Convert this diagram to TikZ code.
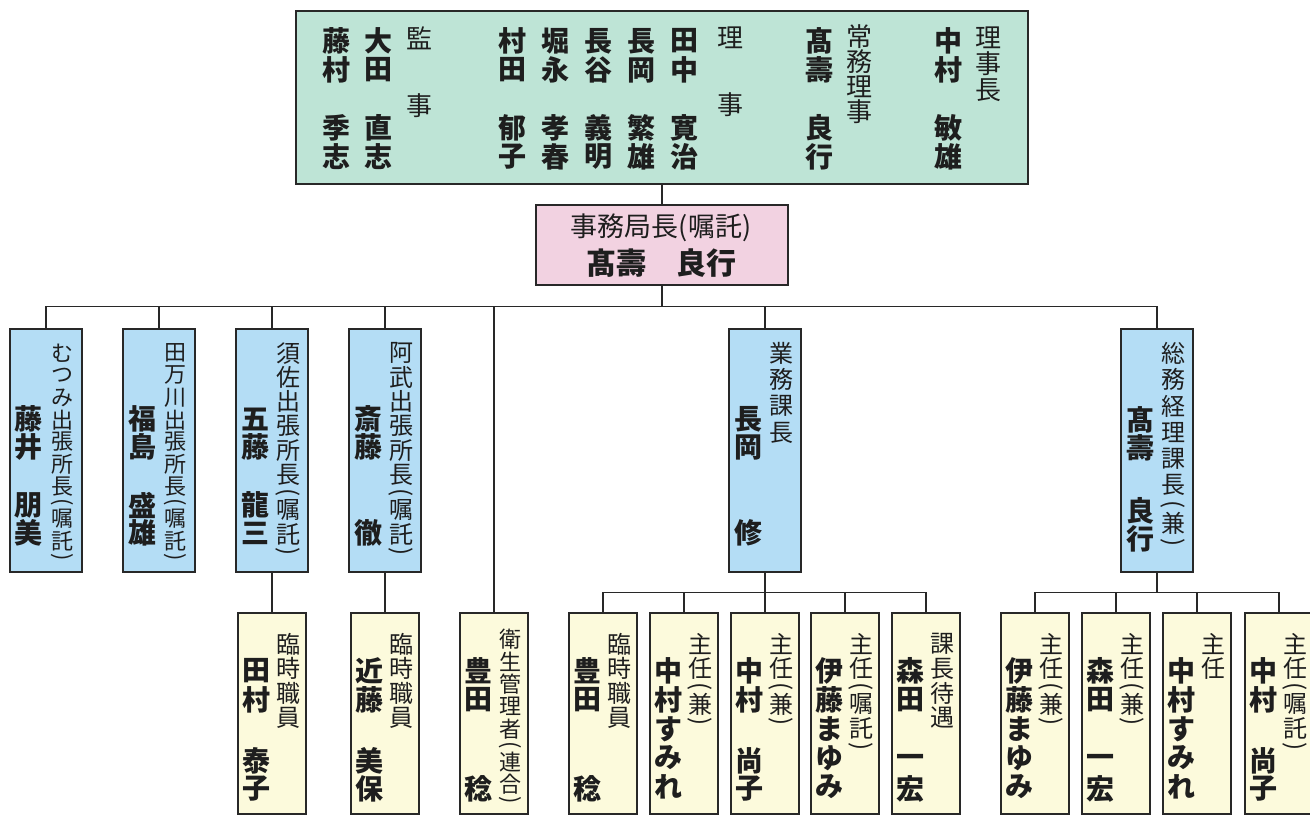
\documentclass[tikz,border=0pt]{standalone}
\usepackage{fontspec}
\newfontfamily\jp{Noto Sans CJK JP}
\definecolor{topfill}{RGB}{190,228,214}
\definecolor{pinkfill}{RGB}{242,210,225}
\definecolor{bluefill}{RGB}{180,221,245}
\definecolor{creamfill}{RGB}{252,250,220}
\definecolor{linec}{RGB}{40,40,40}
\definecolor{txtc}{RGB}{30,30,30}
\tikzset{
  box/.style={draw=linec, line width=1.6pt, inner sep=0pt},
  topbox/.style={box, fill=topfill, anchor=north west},
  pinkbox/.style={box, fill=pinkfill, anchor=north west},
  bluebox/.style={box, fill=bluefill, anchor=north, minimum width=72pt, minimum height=243pt},
  creambox/.style={box, fill=creamfill, anchor=north, minimum width=68pt, minimum height=201pt},
  conn/.style={draw=linec, line width=1.4pt},
  ttl/.style={inner sep=0pt, text=txtc},
  nm/.style={inner sep=0pt, text=txtc, font=\jp\bfseries\fontsize{28}{28}\selectfont},
}
\def\LP{{(}}
\def\RP{{)}}
% vertical title: prefix, x, top, pitch, size, list char/weight
\newcommand\vtitle[6]{%
  \gdef\vacc{0}%
  \foreach \ch/\wt [count=\i] in {#6}{%
    \pgfmathsetmacro\yy{#3+(\vacc+0.5*\wt)*#4}%
    \ifdim\wt pt<0.99pt\def\vrot{-90}\else\def\vrot{0}\fi
    \node[ttl, font=\jp\fontsize{#5}{#5}\selectfont, rotate=\vrot] (#1-\i) at (#2,\yy) {\ch};
    \pgfmathsetmacro\nacc{\vacc+\wt}%
    \global\let\vacc\nacc
  }}
% vertical name: prefix, x, list char/y
\newcommand\vname[3]{%
  \foreach \ch/\yy [count=\i] in {#3}{\node[nm] (#1-\i) at (#2,\yy) {\ch};}}
\begin{document}
\begin{tikzpicture}[x=1pt,y=-1pt]
\useasboundingbox (0,0) rectangle (1310,815);
\fill[white] (0,0) rectangle (1310,815);

% ---------- boxes ----------
\node[topbox, minimum width=732pt, minimum height=173pt] (top) at (295,10) {};
\node[pinkbox, minimum width=252pt, minimum height=80pt] (pink) at (535,204) {};

\node[bluebox] (b1) at (46,328) {};
\node[bluebox] (b2) at (159,328) {};
\node[bluebox] (b3) at (272,328) {};
\node[bluebox] (b4) at (385,328) {};
\node[bluebox] (b5) at (765,328) {};
\node[bluebox] (b6) at (1157,328) {};

\node[creambox] (c1) at (272,612) {};
\node[creambox] (c2) at (385,612) {};
\node[creambox] (e1) at (494,612) {};
\node[creambox] (d1) at (603,612) {};
\node[creambox] (d2) at (684,612) {};
\node[creambox] (d3) at (765,612) {};
\node[creambox] (d4) at (845,612) {};
\node[creambox] (d5) at (926,612) {};
\node[creambox] (f1) at (1035,612) {};
\node[creambox] (f2) at (1116,612) {};
\node[creambox] (f3) at (1197,612) {};
\node[creambox] (f4) at (1279,612) {};

% ---------- connectors ----------
\draw[conn] (top.south) -- (pink.north);
\foreach \b in {b1,b2,b3,b4,b5,b6,e1}{\draw[conn] (pink.south) -- ++(0,21) -| (\b.north);}
\draw[conn] (b3.south) -- (c1.north);
\draw[conn] (b4.south) -- (c2.north);
\foreach \b in {d1,d2,d3,d4,d5}{\draw[conn] (b5.south) -- ++(0,20) -| (\b.north);}
\foreach \b in {f1,f2,f3,f4}{\draw[conn] (b6.south) -- ++(0,20) -| (\b.north);}

% ---------- top box text ----------
\vtitle{t1}{988}{25}{26}{26}{理/1,事/1,長/1}
\vname{n1}{948}{中/41,村/70,敏/128,雄/157}
\vtitle{t2}{859}{24.5}{25}{26}{常/1,務/1,理/1,事/1}
\vname{n2}{819}{髙/41,壽/70,良/128,行/157}
\node[ttl, font=\jp\fontsize{26}{26}\selectfont] (t3a) at (730,38) {理};
\node[ttl, font=\jp\fontsize{26}{26}\selectfont] (t3b) at (730,105) {事};
\vname{n3}{684}{田/41,中/70,寛/128,治/157}
\vname{n4}{641}{長/41,岡/70,繁/128,雄/157}
\vname{n5}{598}{長/41,谷/70,義/128,明/157}
\vname{n6}{555}{堀/41,永/70,孝/128,春/157}
\vname{n7}{512}{村/41,田/70,郁/128,子/157}
\node[ttl, font=\jp\fontsize{26}{26}\selectfont] (t4a) at (419,38) {監};
\node[ttl, font=\jp\fontsize{26}{26}\selectfont] (t4b) at (419,106) {事};
\vname{n8}{378}{大/41,田/70,直/128,志/157}
\vname{n9}{336}{藤/41,村/70,季/128,志/157}

% ---------- pink box text ----------
\node[ttl, font=\jp\fontsize{27}{27}\selectfont] (p1) at (661,228) {事務局長(嘱託)};
\node[nm, font=\jp\bfseries\fontsize{30}{30}\selectfont] (p2) at (661,263) {髙壽　良行};

% ---------- blue boxes text ----------
\vtitle{b1t}{62}{342}{22.2}{22}{む/1,つ/1,み/1,出/1,張/1,所/1,長/1,\LP/0.45,嘱/1,託/1,\RP/0.45}
\vname{b1n}{29}{藤/419,井/447,朋/505,美/533}
\vtitle{b2t}{175}{342}{22.2}{22}{田/1,万/1,川/1,出/1,張/1,所/1,長/1,\LP/0.45,嘱/1,託/1,\RP/0.45}
\vname{b2n}{142}{福/419,島/447,盛/505,雄/533}
\vtitle{b3t}{288}{341}{24.3}{24}{須/1,佐/1,出/1,張/1,所/1,長/1,\LP/0.45,嘱/1,託/1,\RP/0.45}
\vname{b3n}{255}{五/419,藤/447,龍/505,三/533}
\vtitle{b4t}{401}{341}{24.3}{24}{阿/1,武/1,出/1,張/1,所/1,長/1,\LP/0.45,嘱/1,託/1,\RP/0.45}
\vname{b4n}{368}{斎/419,藤/447,徹/533}
\vtitle{b5t}{781}{340}{26.5}{24}{業/1,務/1,課/1,長/1}
\vname{b5n}{748}{長/419,岡/447,修/533}
\vtitle{b6t}{1173}{340}{26.4}{24}{総/1,務/1,経/1,理/1,課/1,長/1,\LP/0.45,兼/1,\RP/0.45}
\vname{b6n}{1140}{髙/420,壽/448,良/511,行/539}

% ---------- bottom boxes text ----------
\vtitle{c1t}{288}{632}{24.5}{24}{臨/1,時/1,職/1,員/1}
\vname{c1n}{256}{田/671,村/700,泰/761,子/789}
\vtitle{c2t}{401}{632}{24.5}{24}{臨/1,時/1,職/1,員/1}
\vname{c2n}{369}{近/671,藤/700,美/761,保/789}
\vtitle{e1t}{510}{628}{22.5}{22}{衛/1,生/1,管/1,理/1,者/1,\LP/0.45,連/1,合/1,\RP/0.45}
\vname{e1n}{478}{豊/671,田/700,稔/789}
\vtitle{d1t}{619}{632}{24.5}{24}{臨/1,時/1,職/1,員/1}
\vname{d1n}{587}{豊/671,田/700,稔/789}
\vtitle{d2t}{700}{632}{24.5}{24}{主/1,任/1,\LP/0.45,兼/1,\RP/0.45}
\vname{d2n}{668}{中/671,村/700,す/729,み/758,れ/787}
\vtitle{d3t}{781}{632}{24.5}{24}{主/1,任/1,\LP/0.45,兼/1,\RP/0.45}
\vname{d3n}{749}{中/671,村/700,尚/761,子/789}
\vtitle{d4t}{861}{632}{24.5}{24}{主/1,任/1,\LP/0.45,嘱/1,託/1,\RP/0.45}
\vname{d4n}{829}{伊/671,藤/700,ま/729,ゆ/758,み/787}
\vtitle{d5t}{942}{632}{24.5}{24}{課/1,長/1,待/1,遇/1}
\vname{d5n}{910}{森/671,田/700,一/761,宏/789}
\vtitle{f1t}{1051}{632}{24.5}{24}{主/1,任/1,\LP/0.45,兼/1,\RP/0.45}
\vname{f1n}{1019}{伊/671,藤/700,ま/729,ゆ/758,み/787}
\vtitle{f2t}{1132}{632}{24.5}{24}{主/1,任/1,\LP/0.45,兼/1,\RP/0.45}
\vname{f2n}{1100}{森/671,田/700,一/761,宏/789}
\vtitle{f3t}{1213}{632}{24.5}{24}{主/1,任/1}
\vname{f3n}{1181}{中/671,村/700,す/729,み/758,れ/787}
\vtitle{f4t}{1295}{632}{24.5}{24}{主/1,任/1,\LP/0.45,嘱/1,託/1,\RP/0.45}
\vname{f4n}{1263}{中/671,村/700,尚/761,子/789}
\end{tikzpicture}
\end{document}
